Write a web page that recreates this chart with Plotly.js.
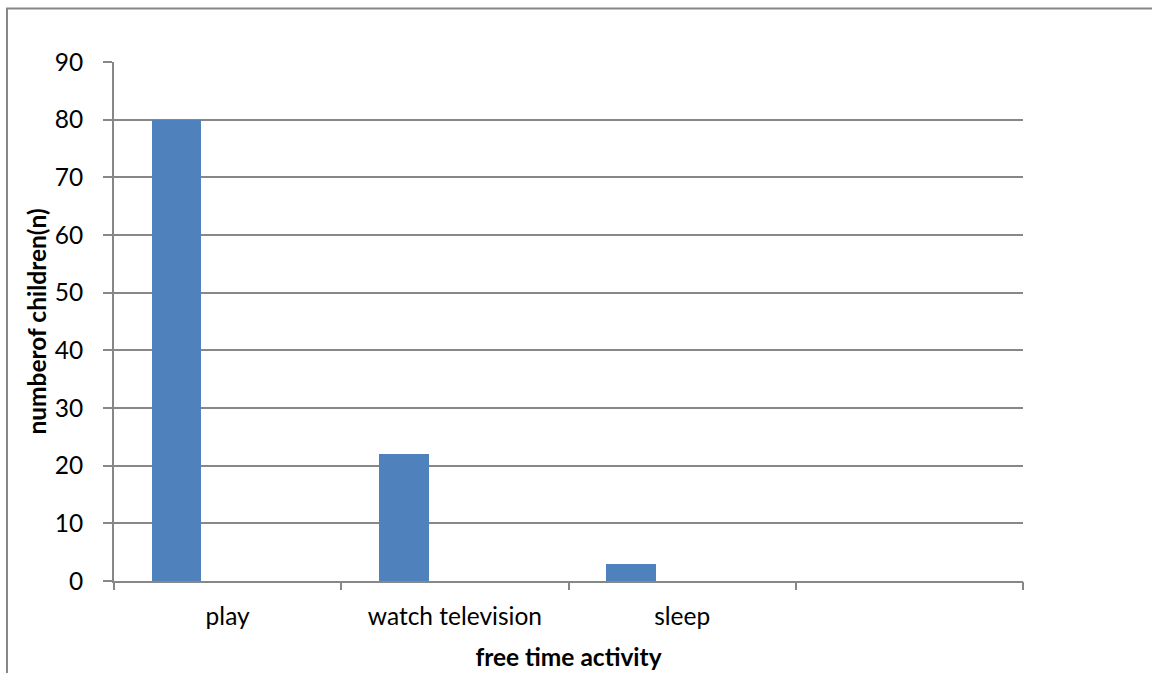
<!DOCTYPE html>
<html>
<head>
<meta charset="utf-8">
<script src="https://cdn.plot.ly/plotly-3.0.1.min.js"></script>
<style>
  html, body { margin: 0; padding: 0; background: #ffffff; }
  #chart { width: 1152px; height: 673px; }
</style>
</head>
<body>
<div id="chart"></div>
<script>
// Free time activity of children
const activities = ["play", "watch television", "sleep"];
const children = [80, 22, 3];
// category slot boundaries (four slots, the last one left empty)
const slotEdges = [0, 1, 2, 3, 4];
const yTicks = [0, 10, 20, 30, 40, 50, 60, 70, 80, 90];

const slotCenters = activities.map((_, i) => i + 0.5);

const gray = "#878787";
const font = "Lato, 'Noto Sans', sans-serif";
const fs = 24.5;

const bars = {
  type: "bar",
  x: slotCenters,
  y: children,
  width: 0.22,
  offset: -0.335,
  marker: { color: "#4f81bd", line: { width: 0 } },
  hoverinfo: "x+y",
  showlegend: false
};

// invisible trace that carries the boundary tick axis
const edgeTrace = {
  type: "scatter",
  x: slotEdges,
  y: slotEdges.map(() => 0),
  xaxis: "x2",
  mode: "markers",
  marker: { opacity: 0 },
  hoverinfo: "skip",
  showlegend: false
};

const layout = {
  width: 1152,
  height: 673,
  margin: { l: 114, r: 129, t: 61.5, b: 91.5 },
  paper_bgcolor: "#ffffff",
  plot_bgcolor: "#ffffff",
  font: { family: font, size: fs, color: "#000000" },
  bargap: 0,
  xaxis: {
    range: [0, 4],
    tickmode: "array",
    tickvals: slotCenters,
    ticktext: activities,
    ticks: "",
    showgrid: false,
    zeroline: false,
    showline: true,
    linecolor: gray,
    linewidth: 2,
    ticklabelstandoff: 13,
    tickfont: { family: font, size: fs, color: "#000000" },
    title: {
      text: "<b>free time activity</b>",
      font: { family: font, size: fs, color: "#000000" },
      standoff: 19
    },
    fixedrange: true
  },
  xaxis2: {
    overlaying: "x",
    matches: "x",
    anchor: "y",
    side: "bottom",
    range: [0, 4],
    tickmode: "array",
    tickvals: slotEdges,
    showticklabels: false,
    ticks: "outside",
    ticklen: 8,
    tickwidth: 2,
    tickcolor: gray,
    showgrid: false,
    zeroline: false,
    showline: false
  },
  yaxis: {
    range: [0, 90],
    tickmode: "array",
    tickvals: yTicks,
    ticks: "outside",
    ticklen: 9,
    tickwidth: 2,
    tickcolor: gray,
    showgrid: true,
    gridcolor: gray,
    gridwidth: 2,
    zeroline: false,
    showline: true,
    linecolor: gray,
    linewidth: 2,
    ticklabelstandoff: 15,
    tickfont: { family: font, size: fs, color: "#000000" },
    title: {
      text: "<b>numberof children(n)</b>",
      font: { family: font, size: fs, color: "#000000" },
      standoff: 1
    },
    fixedrange: true
  },
  shapes: [
    {
      type: "rect",
      xref: "paper", yref: "paper",
      x0: -0.1177, x1: 2, y0: -1, y1: 1.103,
      line: { color: gray, width: 2 },
      fillcolor: "rgba(0,0,0,0)",
      layer: "below"
    }
  ]
};

Plotly.newPlot("chart", [bars, edgeTrace], layout, { displayModeBar: false, staticPlot: true });
</script>
</body>
</html>
